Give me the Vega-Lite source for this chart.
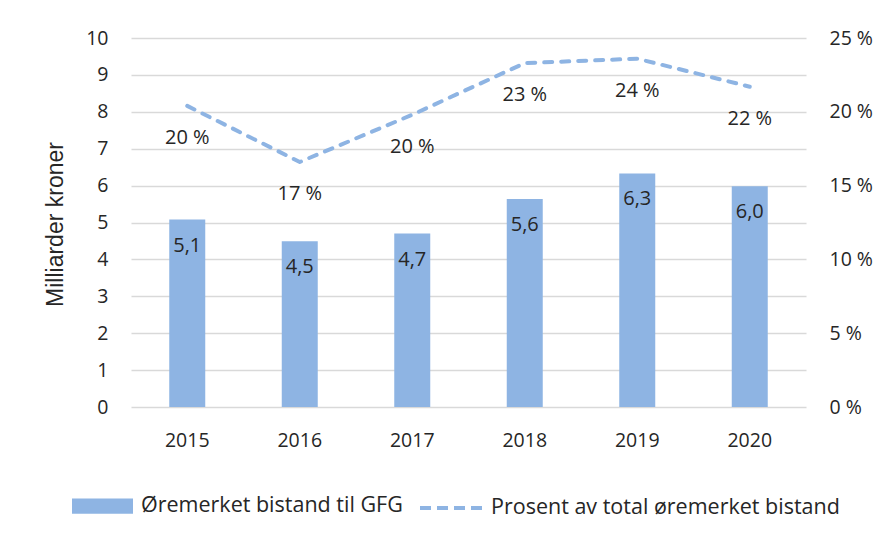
{
  "$schema": "https://vega.github.io/schema/vega-lite/v6.json",
  "autosize": "none",
  "width": 675,
  "height": 369,
  "padding": {"left": 131, "top": 38, "right": 77, "bottom": 131},
  "background": "white",
  "config": {
    "view": {"stroke": null},
    "font": "Open Sans",
    "axis": {"labelFont": "Open Sans", "labelFontSize": 19.5, "labelColor": "#262626", "ticks": false, "tickSize": 0, "domain": false},
    "legend": {"labelFont": "Open Sans", "labelFontSize": 21.5, "labelColor": "#262626", "padding": 0, "labelLimit": 0}
  },
  "data": {
    "values": [
      {"year": "2015", "value": 5.08, "pct": 20.4, "vlabel": "5,1", "plabel": "20 %"},
      {"year": "2016", "value": 4.49, "pct": 16.6, "vlabel": "4,5", "plabel": "17 %"},
      {"year": "2017", "value": 4.70, "pct": 19.8, "vlabel": "4,7", "plabel": "20 %"},
      {"year": "2018", "value": 5.64, "pct": 23.3, "vlabel": "5,6", "plabel": "23 %"},
      {"year": "2019", "value": 6.33, "pct": 23.6, "vlabel": "6,3", "plabel": "24 %"},
      {"year": "2020", "value": 5.98, "pct": 21.7, "vlabel": "6,0", "plabel": "22 %"}
    ]
  },
  "encoding": {
    "x": {
      "field": "year", "type": "ordinal",
      "scale": {"paddingInner": 0.68, "paddingOuter": 0.34},
      "axis": {"title": null, "labelAngle": 0, "labelPadding": 24}
    }
  },
  "layer": [
    {
      "encoding": {
        "y": {
          "field": "value", "type": "quantitative",
          "scale": {"domain": [0, 10], "nice": false},
          "axis": {
            "title": "Milliarder kroner",
            "titleFont": "Liberation Sans", "titleFontSize": 23, "titleFontWeight": "normal", "titleColor": "#262626",
            "titleX": -69, "titleY": 186, "titleAngle": 270, "titleBaseline": "alphabetic", "titleAlign": "center",
            "values": [0,1,2,3,4,5,6,7,8,9,10],
            "grid": true, "gridColor": "#D9D9D9", "gridWidth": 1.3,
            "labelPadding": 23
          }
        }
      },
      "layer": [
        {
          "mark": {"type": "bar", "color": "#8EB4E3"},
          "encoding": {
            "color": {
              "datum": "Øremerket bistand til GFG",
              "scale": {"range": ["#8EB4E3"]},
              "legend": {
                "title": null, "orient": "none", "legendX": -59, "legendY": 437.5,
                "symbolType": "M-1,-0.25H1V0.25H-1Z", "symbolSize": 3721,
                "symbolStrokeWidth": 0, "symbolOpacity": 1, "labelOffset": 8
              }
            }
          }
        },
        {
          "mark": {"type": "text", "baseline": "middle", "dy": 26, "fontSize": 20, "color": "#262626", "font": "Open Sans"},
          "encoding": {"text": {"field": "vlabel"}}
        }
      ]
    },
    {
      "encoding": {
        "y": {
          "field": "pct", "type": "quantitative",
          "scale": {"domain": [0, 25], "nice": false},
          "axis": {
            "title": null, "orient": "right", "grid": false,
            "values": [0, 5, 10, 15, 20, 25],
            "labelExpr": "datum.value + ' %'",
            "labelPadding": 23
          }
        }
      },
      "layer": [
        {
          "mark": {"type": "line", "strokeWidth": 4, "strokeDash": [8, 9], "strokeCap": "round", "strokeJoin": "round"},
          "encoding": {
            "color": {
              "datum": "Prosent av total øremerket bistand",
              "scale": {"range": ["#8EB4E3"]},
              "legend": {
                "title": null, "orient": "none", "legendX": 287, "legendY": 434.5,
                "symbolType": "stroke", "symbolSize": 4489, "symbolStrokeWidth": 4,
                "symbolDash": [11, 6], "labelOffset": 2
              }
            }
          }
        },
        {
          "mark": {"type": "text", "baseline": "middle", "dy": 32, "fontSize": 20, "color": "#262626", "font": "Open Sans"},
          "encoding": {"text": {"field": "plabel"}}
        }
      ]
    }
  ],
  "resolve": {"scale": {"y": "independent", "color": "independent"}}
}
